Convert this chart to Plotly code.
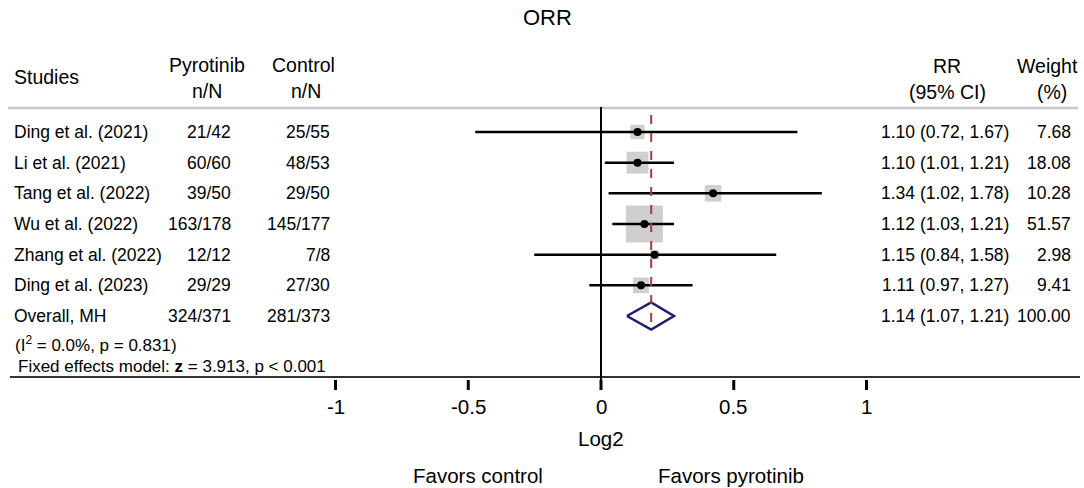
import numpy as np
import plotly.graph_objects as go

# ---------------- data ----------------
studies = ["Ding et al. (2021)", "Li et al. (2021)", "Tang et al. (2022)", "Wu et al. (2022)",
           "Zhang et al. (2022)", "Ding et al. (2023)"]
pyro_nN = ["21/42", "60/60", "39/50", "163/178", "12/12", "29/29"]
ctrl_nN = ["25/55", "48/53", "29/50", "145/177", "7/8", "27/30"]
rr = [1.10, 1.10, 1.34, 1.12, 1.15, 1.11]
rr_lo = [0.72, 1.01, 1.02, 1.03, 0.84, 0.97]
rr_hi = [1.67, 1.21, 1.78, 1.21, 1.58, 1.27]
weights = [7.68, 18.08, 10.28, 51.57, 2.98, 9.41]

overall_label = "Overall, MH"
overall_pyro = "324/371"
overall_ctrl = "281/373"
overall_rr = 1.14
overall_lo = 1.07
overall_hi = 1.21
overall_weight = 100.00

tick_vals = [-1, -0.5, 0, 0.5, 1]
tick_text = ["-1", "-0.5", "0", "0.5", "1"]

# ---------------- layout helpers ----------------
W, H = 1084, 488
X0PX, XSCALE = 601.0, 265.5      # pixel of log2=0, pixels per unit
Y0PX, YSCALE = 132.0, 30.67      # pixel of row 0, pixels per row
FONT = "Liberation Sans, Arial, sans-serif"
FS = 17.5      # row text
FSH = 19.5     # header text
FSA = 20.5     # axis text

def px2x(p):
    return (p - X0PX) / XSCALE

def py2y(p):
    return (p - Y0PX) / YSCALE

def pxp(p):
    return p / W

def pyp(p):
    return 1 - p / H

lx = np.log2(rr)
llo = np.log2(rr_lo)
lhi = np.log2(rr_hi)
rows = list(range(len(studies)))
ov_row = len(studies)

fig = go.Figure()

# weight squares
fig.add_trace(go.Scatter(
    x=lx, y=rows, mode="markers",
    marker=dict(symbol="square", size=[5.15 * np.sqrt(w) for w in weights],
                color="#bababa", line=dict(width=0)),
    hoverinfo="skip", showlegend=False))

# CI lines
cx, cy = [], []
for i in rows:
    cx += [llo[i], lhi[i], None]
    cy += [i, i, None]
fig.add_trace(go.Scatter(x=cx, y=cy, mode="lines", line=dict(color="black", width=2.5),
                         hoverinfo="skip", showlegend=False))

# point estimates
fig.add_trace(go.Scatter(x=lx, y=rows, mode="markers",
                         marker=dict(symbol="circle", size=8, color="black"),
                         hoverinfo="skip", showlegend=False))

# overall diamond
oc, olo, ohi = np.log2(overall_rr), np.log2(overall_lo), np.log2(overall_hi)
dh = 13.5 / YSCALE
fig.add_trace(go.Scatter(x=[olo, oc, ohi, oc, olo], y=[ov_row, ov_row - dh, ov_row, ov_row + dh, ov_row],
                         mode="lines", line=dict(color="#1f1f6e", width=2.5),
                         hoverinfo="skip", showlegend=False))

shapes = []
# header separator
shapes.append(dict(type="line", xref="paper", yref="paper", x0=pxp(8), x1=pxp(1078),
                   y0=pyp(108), y1=pyp(108), line=dict(color="#c8c8c8", width=2.5)))
# axis line
shapes.append(dict(type="line", xref="paper", yref="paper", x0=pxp(10), x1=pxp(1080),
                   y0=pyp(377), y1=pyp(377), line=dict(color="#333333", width=2)))
# null line at 0
shapes.append(dict(type="line", xref="x", yref="y", x0=0, x1=0,
                   y0=py2y(107), y1=py2y(390), line=dict(color="black", width=2)))
# overall dashed line
shapes.append(dict(type="line", xref="x", yref="y", x0=oc, x1=oc,
                   y0=py2y(115), y1=py2y(330), line=dict(color="#a83a3a", width=2, dash="dash")))
# tick marks
for t in tick_vals:
    shapes.append(dict(type="line", xref="x", yref="y", x0=t, x1=t,
                       y0=py2y(380), y1=py2y(390), line=dict(color="black", width=3)))

ann = []

def txt(text, xp, yp, anchor="left", size=FS):
    ann.append(dict(text=text, x=pxp(xp), y=pyp(yp), xref="paper", yref="paper",
                    xanchor=anchor, yanchor="middle", showarrow=False,
                    font=dict(family=FONT, size=size, color="black")))

# title
txt("ORR", 547, 18, "center", 22)
# headers
txt("Studies", 12, 77, "left", FSH)
txt("Pyrotinib", 207, 65, "center", FSH)
txt("n/N", 207, 91, "center", FSH)
txt("Control", 303, 65, "center", FSH)
txt("n/N", 306, 91, "center", FSH)
txt("RR", 947, 66, "center", FSH)
txt("(95% CI)", 947, 92, "center", FSH)
txt("Weight", 1047, 66, "center", FSH)
txt("(%)", 1052, 92, "center", FSH)

# rows
all_names = studies + [overall_label]
all_p = pyro_nN + [overall_pyro]
all_c = ctrl_nN + [overall_ctrl]
all_rr = rr + [overall_rr]
all_lo = rr_lo + [overall_lo]
all_hi = rr_hi + [overall_hi]
all_w = weights + [overall_weight]
for i in range(len(all_names)):
    yp = Y0PX + YSCALE * i
    txt(all_names[i], 12, yp, "left")
    txt(all_p[i], 233, yp, "right")
    txt(all_c[i], 332, yp, "right")
    txt(f"{all_rr[i]:.2f} ({all_lo[i]:.2f}, {all_hi[i]:.2f})", 1011, yp, "right")
    txt(f"{all_w[i]:.2f}", 1073, yp, "right")

txt("(I<sup>2</sup> = 0.0%, p = 0.831)", 13, 344, "left", 17)
txt("Fixed effects model: <b>z</b> = 3.913, p < 0.001", 16, 366, "left", 17)

# x axis labels
for t, s in zip(tick_vals, tick_text):
    ann.append(dict(text=s, x=t, y=py2y(406), xref="x", yref="y", xanchor="center",
                    yanchor="middle", showarrow=False, font=dict(family=FONT, size=FSA, color="black")))
ann.append(dict(text="Log2", x=0, y=py2y(438), xref="x", yref="y", xanchor="center",
                yanchor="middle", showarrow=False, font=dict(family=FONT, size=FSA, color="black")))
ann.append(dict(text="Favors control", x=-0.463, y=py2y(475), xref="x", yref="y", xanchor="center",
                yanchor="middle", showarrow=False, font=dict(family=FONT, size=FSA, color="black")))
ann.append(dict(text="Favors pyrotinib", x=0.49, y=py2y(475), xref="x", yref="y", xanchor="center",
                yanchor="middle", showarrow=False, font=dict(family=FONT, size=FSA, color="black")))

fig.update_layout(
    width=W, height=H, autosize=False,
    margin=dict(l=0, r=0, t=0, b=0, pad=0),
    paper_bgcolor="white", plot_bgcolor="white",
    xaxis=dict(range=[px2x(0), px2x(W)], visible=False, domain=[0, 1]),
    yaxis=dict(range=[py2y(H), py2y(0)], visible=False, domain=[0, 1]),
    shapes=shapes, annotations=ann, showlegend=False,
)

fig.write_html("out.html")
